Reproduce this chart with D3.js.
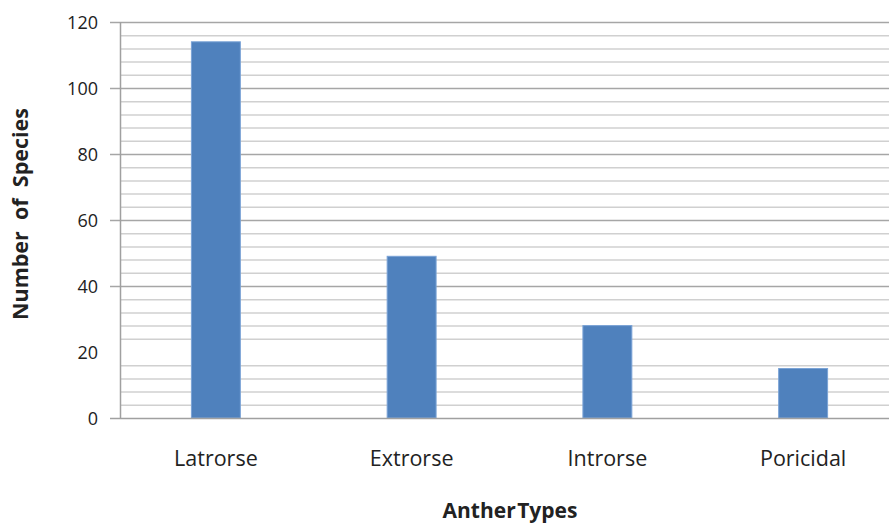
<!DOCTYPE html>
<html>
<head>
<meta charset="utf-8">
<script src="https://cdn.jsdelivr.net/npm/d3@7/dist/d3.min.js"></script>
<style>
  html, body { margin: 0; padding: 0; background: #fff; }
  svg text { font-family: "Open Sans", "Liberation Sans", sans-serif; fill: #222; }
</style>
</head>
<body>
<svg id="chart" width="889" height="523"></svg>
<script>
// Anther types and species counts
const categories = ["Latrorse", "Extrorse", "Introrse", "Poricidal"];
const species = [114, 49, 28, 15];
const yTicks = [0, 20, 40, 60, 80, 100, 120];
const minorStep = 4;
const yMax = 120;

const svg = d3.select("#chart");
const plot = { left: 120, right: 903, top: 22, bottom: 418 };

const x = d3.scaleBand()
  .domain(categories)
  .range([plot.left - 2, plot.right - 2])
  .paddingInner(0)
  .paddingOuter(0);

const y = d3.scaleLinear()
  .domain([0, yMax])
  .range([plot.bottom, plot.top]);

const barW = x.bandwidth() * 0.25;

// minor gridlines
const minor = d3.range(minorStep, yMax, minorStep).filter(v => v % 20 !== 0);
svg.append("g").selectAll("line").data(minor).join("line")
  .attr("x1", plot.left).attr("x2", plot.right)
  .attr("y1", d => y(d) + 0.5).attr("y2", d => y(d) + 0.5)
  .attr("stroke", "#d0d0d0").attr("stroke-width", 1.5);

// major gridlines with left tick stubs (no line at 20)
const major = yTicks.filter(v => v !== 0 && v !== 20);
svg.append("g").selectAll("line").data(major).join("line")
  .attr("x1", plot.left - 10).attr("x2", plot.right)
  .attr("y1", d => y(d) + 0.5).attr("y2", d => y(d) + 0.5)
  .attr("stroke", "#a6a6a6").attr("stroke-width", 1.5);

// bars
svg.append("g").selectAll("rect").data(categories).join("rect")
  .attr("x", d => x(d) + x.bandwidth() / 2 - barW / 2)
  .attr("width", barW)
  .attr("y", (d, i) => y(species[i]))
  .attr("height", (d, i) => y(0) - y(species[i]))
  .attr("fill", "#4f81bd")
  .attr("stroke", "#7aa3d6").attr("stroke-width", 1);

// y axis
const yAxis = d3.axisLeft(y).tickValues(yTicks).tickSize(0).tickPadding(22);
const gy = svg.append("g").attr("transform", `translate(${plot.left},0)`).call(yAxis);
gy.select(".domain").remove();
gy.selectAll("text").style("font-size", "18px").attr("fill", "#222").attr("dy", "0.36em");
svg.append("line")
  .attr("x1", plot.left + 0.5).attr("x2", plot.left + 0.5)
  .attr("y1", y(yMax)).attr("y2", y(0))
  .attr("stroke", "#a0a0a0").attr("stroke-width", 1.5);

// x axis
const xAxis = d3.axisBottom(x).tickSize(0).tickPadding(33);
const gx = svg.append("g").attr("transform", `translate(0,${y(0)})`).call(xAxis);
gx.select(".domain").remove();
gx.selectAll("text").style("font-size", "21.5px").attr("fill", "#222");
svg.append("line")
  .attr("x1", plot.left - 10).attr("x2", plot.right)
  .attr("y1", y(0) + 0.5).attr("y2", y(0) + 0.5)
  .attr("stroke", "#a0a0a0").attr("stroke-width", 1.5);

// axis titles
svg.append("text")
  .attr("transform", `translate(28,${(y(0) + y(yMax)) / 2 - 6}) rotate(-90)`)
  .attr("text-anchor", "middle")
  .style("font-size", "21.5px").style("font-weight", "bold")
  .attr("xml:space", "preserve")
  .text("Number  of  Species");

svg.append("text")
  .attr("x", 510).attr("y", 518)
  .attr("text-anchor", "middle")
  .style("font-size", "21px").style("font-weight", "bold")
  .style("word-spacing", "-4px")
  .text("Anther Types");
</script>
</body>
</html>
